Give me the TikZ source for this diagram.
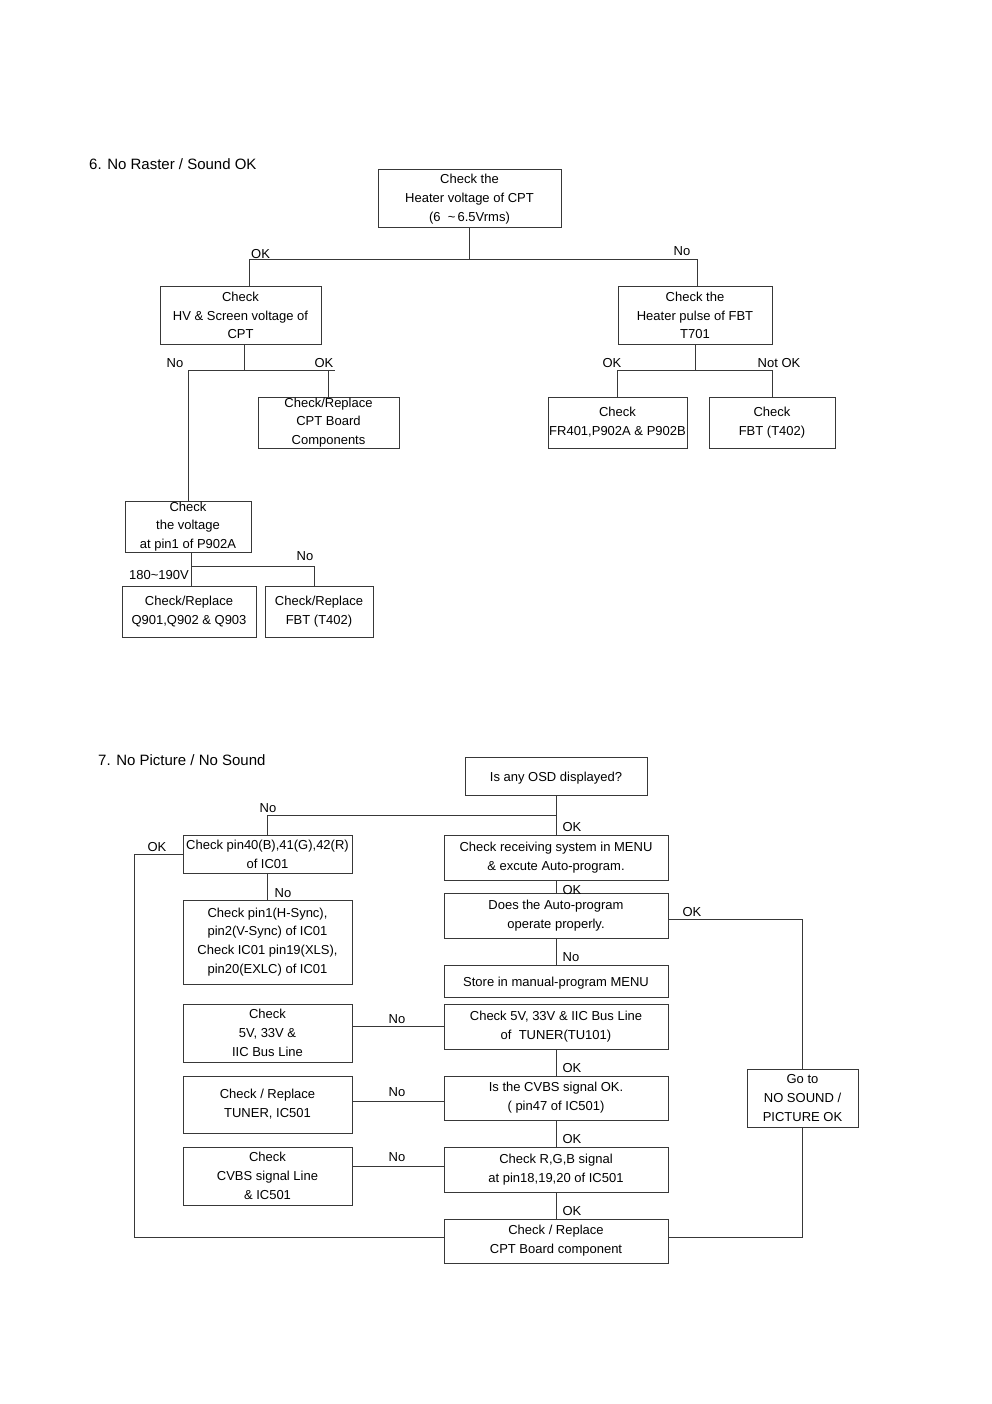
\documentclass[tikz,border=0pt]{standalone}
\usepackage{fontspec}
\setmainfont{Liberation Sans}
\begin{document}
\begin{tikzpicture}[x=1pt,y=-1pt,
  box/.style={draw=black!78, line width=1pt, align=center, inner sep=0pt,
    font=\fontsize{13}{18.8}\selectfont, execute at begin node={\rule{0pt}{13pt}}},
  lbl/.style={font=\fontsize{13}{15}\selectfont, inner sep=0pt},
  ttl/.style={font=\fontsize{15}{18}\selectfont, inner sep=0pt, anchor=base west},
  conn/.style={draw=black!78, line width=1pt}]
\useasboundingbox (0,0) rectangle (992,1404);
% ---------- Section 6 ----------
\node[ttl] (t6) at (89,170) {6. No Raster / Sound OK};
\node[box, minimum width=183, minimum height=58] (A) at (469.5,199) {Check the\\Heater voltage of CPT\\(6\ \ \textasciitilde\,6.5Vrms)};
\node[box, minimum width=161, minimum height=57] (B) at (240.5,315.5) {Check\\HV \& Screen voltage of\\CPT};
\node[box, minimum width=154, minimum height=57] (C) at (695,315.5) {Check the\\Heater pulse of FBT\\T701};
\node[box, minimum width=141, minimum height=51] (D) at (328.5,422.5) {Check/Replace\\CPT Board\\Components};
\node[box, minimum width=139, minimum height=51] (H) at (617.5,422.5) {Check\\FR401,P902A \& P902B};
\node[box, minimum width=126, minimum height=51] (I) at (772,422.5) {Check\\FBT (T402)};
\node[box, minimum width=126, minimum height=51] (E) at (188,526.5) {Check\\the voltage\\at pin1 of P902A};
\node[box, minimum width=134, minimum height=51] (F) at (189,611.5) {Check/Replace\\Q901,Q902 \& Q903};
\node[box, minimum width=108, minimum height=51] (G) at (319,611.5) {Check/Replace\\FBT (T402)};

\coordinate (a1) at (469.5,260);
\coordinate (aL) at (249,260);
\coordinate (aR) at (697,260);
\draw[conn] (A.south) -- (a1);
\draw[conn] (B.north -| aL) -- (aL) -- (aR) -- (C.north -| aR);
\node[lbl, anchor=base west] (l1) at (251,259) {OK};
\node[lbl, anchor=base] (l2) at (682,256) {No};

\coordinate (b1) at (244,370);
\coordinate (bR) at (335,370);
\draw[conn] (B.south -| b1) -- (b1);
\draw[conn] (E.north) |- (bR);
\draw[conn] (D.north) -- (D.north |- b1);
\node[lbl, anchor=base] (l3) at (175,367) {No};
\node[lbl, anchor=base] (l4) at (324,367) {OK};

\coordinate (c1) at (695,370);
\draw[conn] (C.south -| c1) -- (c1);
\draw[conn] (H.north) |- (I.north |- c1) -- (I.north);
\node[lbl, anchor=base] (l5) at (612,367) {OK};
\node[lbl, anchor=base] (l6) at (779,367) {Not OK};

\coordinate (e1) at (191,566);
\coordinate (e2) at (314,566);
\draw[conn] (E.south -| e1) -- (F.north -| e1);
\draw[conn] (e1) -- (e2) -- (G.north -| e2);
\node[lbl, anchor=base] (l7) at (159,579) {180\textasciitilde190V};
\node[lbl, anchor=base] (l8) at (305,560) {No};

% ---------- Section 7 ----------
\node[ttl] (t7) at (98,765) {7. No Picture / No Sound};
\node[box, minimum width=182, minimum height=38] (J) at (556,776) {Is any OSD displayed?};
\node[box, minimum width=169, minimum height=38] (K) at (267.5,854) {Check pin40(B),41(G),42(R)\\of IC01};
\node[box, minimum width=224, minimum height=45] (L) at (556,857.5) {Check receiving system in MENU\\\& excute Auto-program.};
\node[box, minimum width=224, minimum height=45] (M) at (556,915.5) {Does the Auto-program\\operate properly.};
\node[box, minimum width=111, minimum height=58] (N) at (802.5,1098) {Go to\\NO SOUND /\\PICTURE OK};
\node[box, minimum width=169, minimum height=84] (O) at (267.5,942) {Check pin1(H-Sync),\\pin2(V-Sync) of IC01\\Check IC01 pin19(XLS),\\pin20(EXLC) of IC01};
\node[box, minimum width=224, minimum height=32] (P) at (556,981) {Store in manual-program MENU};
\node[box, minimum width=224, minimum height=45] (Q) at (556,1026.5) {Check 5V, 33V \& IIC Bus Line\\of\ \ TUNER(TU101)};
\node[box, minimum width=169, minimum height=58] (R) at (267.5,1033) {Check\\5V, 33V \&\\IIC Bus Line};
\node[box, minimum width=224, minimum height=44] (S) at (556,1098) {Is the CVBS signal OK.\\( pin47 of IC501)};
\node[box, minimum width=169, minimum height=57] (T) at (267.5,1104.5) {Check / Replace\\TUNER, IC501};
\node[box, minimum width=224, minimum height=45] (U) at (556,1169.5) {Check R,G,B signal\\at pin18,19,20 of IC501};
\node[box, minimum width=169, minimum height=58] (W) at (267.5,1176) {Check\\CVBS signal Line\\\& IC501};
\node[box, minimum width=224, minimum height=44] (X) at (556,1241) {Check / Replace\\CPT Board component};

\coordinate (j1) at (556,815);
\draw[conn] (J.south) -- (L.north);
\draw[conn] (j1) -| (K.north);
\node[lbl, anchor=base] (m1) at (268,812) {No};
\node[lbl, anchor=base] (m2) at (572,831) {OK};
\draw[conn] (L.south) -- (M.north);
\node[lbl, anchor=base] (m3) at (572,894) {OK};
\draw[conn] (M.south) -- (P.north);
\node[lbl, anchor=base] (m4) at (571,961) {No};
\draw[conn] (K.south) -- (O.north);
\node[lbl, anchor=base] (m5) at (283,897) {No};

\coordinate (kL) at (134,854);
\coordinate (xL) at (134,1237);
\draw[conn] (K.west) -- (kL) -- (xL) -- ([yshift=4pt]X.west);
\node[lbl, anchor=base] (m6) at (157,851) {OK};

\coordinate (mR) at (802.5,919);
\coordinate (xR) at (802.5,1237);
\draw[conn] ([yshift=-3.5pt]M.east) -- (mR) -- (N.north);
\draw[conn] (N.south) -- (xR) -- ([yshift=4pt]X.east);
\node[lbl, anchor=base] (m7) at (692,916) {OK};

\draw[conn] (Q.west) -- (Q.west -| R.east);
\node[lbl, anchor=base] (m8) at (397,1023) {No};
\draw[conn] (Q.south) -- (S.north);
\node[lbl, anchor=base] (m9) at (572,1072) {OK};
\draw[conn] ([yshift=-3pt]S.west) -- ([yshift=-3pt]S.west -| T.east);
\node[lbl, anchor=base] (m10) at (397,1096) {No};
\draw[conn] (S.south) -- (U.north);
\node[lbl, anchor=base] (m11) at (572,1143) {OK};
\draw[conn] ([yshift=3pt]U.west) -- ([yshift=3pt]U.west -| W.east);
\node[lbl, anchor=base] (m12) at (397,1161) {No};
\draw[conn] (U.south) -- (X.north);
\node[lbl, anchor=base] (m13) at (572,1215) {OK};
\end{tikzpicture}
\end{document}
